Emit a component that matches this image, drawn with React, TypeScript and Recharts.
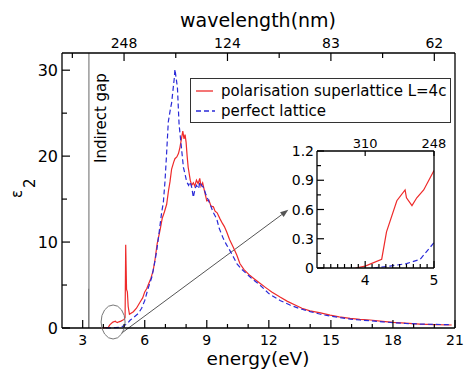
import React from "react";
import {
  Legend,
  Line,
  LineChart,
  ReferenceDot,
  ReferenceLine,
  XAxis,
  YAxis,
} from "recharts";

const FONT = "DejaVu Sans";
const RED = "#ee2a2a";
const BLUE = "#2a2ad8";
const FRAME = "#000";

/* polarisation superlattice L=4c : energy (eV) / eps2 */
const superEnergy = [
  3.86, 4.0, 4.24, 4.31, 4.46, 4.58, 4.6, 4.68, 4.75, 4.85, 5.0, 5.05, 5.08,
  5.12, 5.16, 5.2, 5.26, 5.45, 5.6, 5.77, 5.9, 6.0, 6.1, 6.2, 6.3, 6.41, 6.5,
  6.6, 6.74, 6.85, 6.95, 7.06, 7.15, 7.22, 7.3, 7.4, 7.46, 7.55, 7.63, 7.7,
  7.79, 7.84, 7.9, 7.95, 8.0, 8.05, 8.1, 8.2, 8.27, 8.35, 8.42, 8.5, 8.58,
  8.66, 8.72, 8.8, 8.9, 9.0, 9.1, 9.2, 9.32, 9.4, 9.5, 9.64, 9.75, 9.85, 9.96,
  10.1, 10.28, 10.45, 10.6, 10.8, 11.09, 11.3, 11.57, 11.85, 12.14, 12.54,
  12.9, 13.27, 13.6, 13.99, 14.5, 14.96, 15.4, 15.93, 16.4, 16.9, 17.5, 18.02,
  18.6, 19.3, 20.0, 20.84,
];
const superEps2 = [
  0, 0.02, 0.09, 0.37, 0.69, 0.8, 0.72, 0.64, 0.72, 0.8, 1.0, 1.2, 9.7, 4.5,
  4.2, 2.5, 1.6, 1.9, 2.3, 3.0, 3.5, 4.2, 4.6, 5.2, 5.8, 6.7, 8.0, 9.8, 11.4,
  12.8, 13.5, 14.4, 16.0, 17.0, 18.5, 19.3, 19.7, 19.9, 20.3, 21.0, 22.2,
  22.9, 22.0, 22.5, 21.6, 20.0, 18.7, 17.2, 16.6, 16.9, 16.5, 17.2, 16.8,
  17.4, 16.5, 16.9, 15.8, 14.8, 14.9, 14.2, 14.1, 13.6, 13.4, 12.7, 12.2,
  11.8, 11.2, 10.3, 9.4, 8.5, 7.5, 6.8, 6.1, 5.7, 5.2, 4.7, 4.2, 3.6, 3.1,
  2.67, 2.3, 2.0, 1.75, 1.5, 1.3, 1.12, 1.0, 0.93, 0.78, 0.66, 0.56, 0.46,
  0.4, 0.35,
];

/* perfect lattice : energy (eV) / eps2 */
const perfectEnergy = [
  4.12, 4.36, 4.6, 4.8, 5.0, 5.15, 5.29, 5.45, 5.69, 5.85, 6.0, 6.15, 6.34,
  6.45, 6.58, 6.7, 6.82, 6.9, 6.98, 7.05, 7.14, 7.25, 7.3, 7.38, 7.43, 7.46,
  7.5, 7.58, 7.66, 7.79, 7.87, 7.95, 8.03, 8.12, 8.19, 8.27, 8.35, 8.43, 8.5,
  8.6, 8.67, 8.75, 8.83, 8.95, 9.05, 9.16, 9.3, 9.48, 9.6, 9.8, 9.95, 10.12,
  10.3, 10.45, 10.7, 10.93, 11.2, 11.57, 12.0, 12.54, 13.02, 13.5, 14.0, 14.5,
  14.96, 15.45, 15.93, 16.4, 16.9, 17.5, 18.02, 18.6, 19.3, 20.0, 20.84,
];
const perfectEps2 = [
  0, 0.02, 0.045, 0.09, 0.26, 0.5, 0.9, 1.2, 1.7, 2.3, 3.2, 4.5, 5.9, 7.2,
  9.0, 11.2, 13.5, 14.6, 17.1, 20.0, 24.0, 25.6, 26.2, 28.0, 29.1, 30.1, 29.4,
  28.0, 23.7, 20.6, 18.7, 17.9, 17.0, 16.6, 17.0, 16.4, 15.2, 16.2, 16.6,
  16.2, 17.0, 16.6, 16.4, 15.6, 15.0, 14.4, 13.5, 12.7, 11.6, 10.4, 9.7, 9.0,
  8.2, 7.5, 6.8, 6.3, 5.7, 5.0, 4.0, 3.2, 2.67, 2.25, 1.9, 1.6, 1.39, 1.2,
  1.04, 0.93, 0.85, 0.72, 0.62, 0.53, 0.46, 0.42, 0.38,
];

const seriesNames = ["polarisation superlattice L=4c", "perfect lattice"];

/* main axes ticks */
const energyTicks = [3, 4, 5, 6, 7, 8, 9, 10, 11, 12, 13, 14, 15, 16, 17, 18, 19, 20, 21];
const energyLabels = [3, 6, 9, 12, 15, 18, 21];
const eps2Ticks = [0, 5, 10, 15, 20, 25, 30];
const eps2Labels = [0, 10, 20, 30];
const wavelengthTicks = [2.5, 5, 7.5, 10, 12.5, 15, 17.5, 20];
const wavelengthAt = [5, 10, 15, 20];
const wavelengthLabels = ["248", "124", "83", "62"];

/* inset axes ticks */
const insetEnergyTicks = [3.4, 3.5, 3.6, 3.7, 3.8, 3.9, 4, 4.1, 4.2, 4.3, 4.4, 4.5, 4.6, 4.7, 4.8, 4.9, 5];
const insetEnergyLabels = [4, 5];
const insetEpsTicks = [0, 0.15, 0.3, 0.45, 0.6, 0.75, 0.9, 1.05, 1.2];
const insetEpsLabels = ["0", "0.3", "0.6", "0.9", "1.2"];
const insetEpsAt = [0, 0.3, 0.6, 0.9, 1.2];
const insetWaveAt = [4, 5];
const insetWaveLabels = ["310", "248"];

const indirectGap = 3.3;

const superData = superEnergy.map((e, i) => ({ energy: e, eps: superEps2[i] }));
const perfectData = perfectEnergy.map((e, i) => ({ energy: e, eps: perfectEps2[i] }));
const insetSuper = superData.filter((d) => d.energy <= 5);
const insetPerfect = perfectData.filter((d) => d.energy <= 5);

const key = (v: number) => v.toFixed(2);
function labelMap(at: number[], text: string[]) {
  const m = new Map<string, string>();
  at.forEach((v, i) => m.set(key(v), text[i]));
  return m;
}

type Side = "bottom" | "top" | "left";

/* ticks pointing into the plot, labels outside */
function inwardTick(
  side: Side,
  labels: Map<string, string>,
  majorLen: number,
  minorLen: number,
  fontSize: number,
  gap: number
) {
  return (props: any) => {
    const { x, y, payload } = props;
    const label = labels.get(key(Number(payload.value)));
    const len = label !== undefined ? majorLen : minorLen;
    const textProps = {
      fontFamily: FONT,
      fontSize,
      fill: "#000",
    };
    if (side === "bottom") {
      return (
        <g>
          <line x1={x} y1={y} x2={x} y2={y - len} stroke={FRAME} strokeWidth={1.2} />
          {label && (
            <text {...textProps} x={x} y={y + gap + fontSize * 0.73} textAnchor="middle">
              {label}
            </text>
          )}
        </g>
      );
    }
    if (side === "top") {
      return (
        <g>
          <line x1={x} y1={y} x2={x} y2={y + len} stroke={FRAME} strokeWidth={1.2} />
          {label && (
            <text {...textProps} x={x} y={y - gap} textAnchor="middle">
              {label}
            </text>
          )}
        </g>
      );
    }
    return (
      <g>
        <line x1={x} y1={y} x2={x + len} y2={y} stroke={FRAME} strokeWidth={1.2} />
        {label && (
          <text {...textProps} x={x - gap} y={y + fontSize * 0.36} textAnchor="end">
            {label}
          </text>
        )}
      </g>
    );
  };
}

function ArrowShape(props: any) {
  const { x1, y1, x2, y2 } = props;
  if ([x1, y1, x2, y2].some((v) => typeof v !== "number")) return null;
  const a = Math.atan2(y2 - y1, x2 - x1);
  const h = 8;
  const w = 3;
  const bx = x2 - h * Math.cos(a);
  const by = y2 - h * Math.sin(a);
  const pts = `${x2},${y2} ${bx + w * Math.sin(a)},${by - w * Math.cos(a)} ${bx - w * Math.sin(a)},${by + w * Math.cos(a)}`;
  return (
    <g>
      <line x1={x1} y1={y1} x2={bx} y2={by} stroke="#555" strokeWidth={1} />
      <polygon points={pts} fill="#555" />
    </g>
  );
}

function EllipseShape(props: any) {
  const { cx, cy } = props;
  return <ellipse cx={cx} cy={cy} rx={12} ry={17} fill="none" stroke="#777" strokeWidth={1} />;
}

function LegendBox() {
  return (
    <div
      style={{
        width: 261,
        height: 45,
        border: "1.3px solid #333",
        boxSizing: "border-box",
        background: "#fff",
      }}
    >
      <svg width={259} height={43}>
        <line x1={5} y1={12} x2={22} y2={12} stroke={RED} strokeWidth={1.3} />
        <text x={30} y={17} fontFamily={FONT} fontSize={15}>
          {seriesNames[0]}
        </text>
        <line x1={5} y1={32} x2={24} y2={32} stroke={BLUE} strokeWidth={1.3} strokeDasharray="5 3" />
        <text x={30} y={37} fontFamily={FONT} fontSize={15}>
          {seriesNames[1]}
        </text>
      </svg>
    </div>
  );
}

function Inset() {
  return (
    <LineChart width={170} height={160} margin={{ top: 0, right: 0, bottom: 0, left: 0 }}>
      <XAxis
        dataKey="energy"
        type="number"
        domain={[3.3, 5]}
        ticks={insetEnergyTicks}
        interval={0}
        height={20}
        tickSize={0}
        tickMargin={0}
        tick={inwardTick("bottom", labelMap(insetEnergyLabels, insetEnergyLabels.map(String)), 7, 4, 14, 7)}
        axisLine={{ stroke: FRAME, strokeWidth: 1.3 }}
        tickLine={false}
        allowDataOverflow
      />
      <XAxis
        xAxisId="top"
        orientation="top"
        dataKey="energy"
        type="number"
        domain={[3.3, 5]}
        ticks={insetWaveAt}
        interval={0}
        height={23}
        tickSize={0}
        tickMargin={0}
        tick={inwardTick("top", labelMap(insetWaveAt, insetWaveLabels), 5, 5, 13, 3)}
        axisLine={{ stroke: FRAME, strokeWidth: 1.3 }}
        tickLine={false}
        allowDataOverflow
      />
      <YAxis
        type="number"
        domain={[0, 1.2]}
        ticks={insetEpsTicks}
        interval={0}
        width={37}
        tickSize={0}
        tickMargin={0}
        tick={inwardTick("left", labelMap(insetEpsAt, insetEpsLabels), 7, 4, 14, 3)}
        axisLine={{ stroke: FRAME, strokeWidth: 1.3 }}
        tickLine={false}
        allowDataOverflow
      />
      <YAxis
        yAxisId="r"
        orientation="right"
        type="number"
        domain={[0, 1]}
        width={16}
        tick={false}
        tickLine={false}
        axisLine={{ stroke: FRAME, strokeWidth: 1.3 }}
      />
      {/* invisible carrier so the wavelength axis gets a scale */}
      <Line
        xAxisId="top"
        data={insetSuper}
        dataKey="eps"
        stroke="none"
        dot={false}
        activeDot={false}
        legendType="none"
        isAnimationActive={false}
      />
      <Line
        data={insetSuper}
        dataKey="eps"
        stroke={RED}
        strokeWidth={1.2}
        dot={false}
        isAnimationActive={false}
      />
      <Line
        data={insetPerfect}
        dataKey="eps"
        stroke={BLUE}
        strokeWidth={1.2}
        strokeDasharray="5 3"
        dot={false}
        isAnimationActive={false}
      />
    </LineChart>
  );
}

export default function App() {
  return (
    <div
      style={{
        position: "fixed",
        left: 0,
        top: 0,
        width: 466,
        height: 369,
        background: "#fff",
      }}
    >
      <LineChart width={466} height={369} margin={{ top: 0, right: 0, bottom: 0, left: 0 }}>
        <XAxis
          dataKey="energy"
          type="number"
          domain={[2, 21]}
          ticks={energyTicks}
          interval={0}
          height={41}
          tickSize={0}
          tickMargin={0}
          tick={inwardTick("bottom", labelMap(energyLabels, energyLabels.map(String)), 8, 4, 14, 7)}
          axisLine={{ stroke: FRAME, strokeWidth: 1.3 }}
          tickLine={false}
        />
        <XAxis
          xAxisId="top"
          orientation="top"
          dataKey="energy"
          type="number"
          domain={[2, 21]}
          ticks={wavelengthTicks}
          interval={0}
          height={53}
          tickSize={0}
          tickMargin={0}
          tick={inwardTick("top", labelMap(wavelengthAt, wavelengthLabels), 8, 5, 14, 5)}
          axisLine={{ stroke: FRAME, strokeWidth: 1.3 }}
          tickLine={false}
        />
        <YAxis
          type="number"
          domain={[0, 32]}
          ticks={eps2Ticks}
          interval={0}
          width={62}
          tickSize={0}
          tickMargin={0}
          tick={inwardTick("left", labelMap(eps2Labels, eps2Labels.map(String)), 8, 5, 16, 4)}
          axisLine={{ stroke: FRAME, strokeWidth: 1.3 }}
          tickLine={false}
        />
        <YAxis
          yAxisId="r"
          orientation="right"
          type="number"
          domain={[0, 1]}
          width={11}
          tick={false}
          tickLine={false}
          axisLine={{ stroke: FRAME, strokeWidth: 1.3 }}
        />
        <ReferenceLine
          segment={[
            { x: indirectGap, y: 4.6 },
            { x: indirectGap, y: 32 },
          ]}
          stroke="#999"
          strokeWidth={1.5}
        />
        <ReferenceLine
          segment={[
            { x: indirectGap, y: 0 },
            { x: indirectGap, y: 4.6 },
          ]}
          stroke="#333"
          strokeWidth={1}
        />
        <ReferenceDot
          x={4.47}
          y={0.7}
          r={12}
          ifOverflow="visible"
          shape={EllipseShape}
        />
        <ReferenceLine
          segment={[
            { x: 4.88, y: -0.6 },
            { x: 12.94, y: 13.75 },
          ]}
          ifOverflow="visible"
          shape={ArrowShape}
        />
        {/* invisible carrier so the wavelength axis gets a scale */}
        <Line
          xAxisId="top"
          data={superData}
          dataKey="eps"
          stroke="none"
          dot={false}
          activeDot={false}
          legendType="none"
          isAnimationActive={false}
        />
        <Line
          data={superData}
          dataKey="eps"
          name={seriesNames[0]}
          stroke={RED}
          strokeWidth={1.2}
          dot={false}
          isAnimationActive={false}
        />
        <Line
          data={perfectData}
          dataKey="eps"
          name={seriesNames[1]}
          stroke={BLUE}
          strokeWidth={1.2}
          strokeDasharray="5 3"
          dot={false}
          isAnimationActive={false}
        />
        <Legend
          layout="vertical"
          align="center"
          verticalAlign="middle"
          content={() => <LegendBox />}
          wrapperStyle={{ left: 190, top: 78, width: 261, height: 45 }}
        />
        <text x={258} y={27} textAnchor="middle" fontFamily={FONT} fontSize={19}>
          wavelength(nm)
        </text>
        <text x={258} y={365} textAnchor="middle" fontFamily={FONT} fontSize={18.5}>
          energy(eV)
        </text>
        <text
          x={106}
          y={163}
          transform="rotate(-90, 106, 163)"
          fontFamily={FONT}
          fontSize={15}
        >
          Indirect gap
        </text>
        <text
          x={22}
          y={198}
          transform="rotate(-90, 22, 198)"
          fontFamily={FONT}
          fontSize={15}
        >
          ε<tspan dx={2} dy={13}>2</tspan>
        </text>
      </LineChart>
      <div style={{ position: "absolute", left: 280, top: 128 }}>
        <Inset />
      </div>
    </div>
  );
}
